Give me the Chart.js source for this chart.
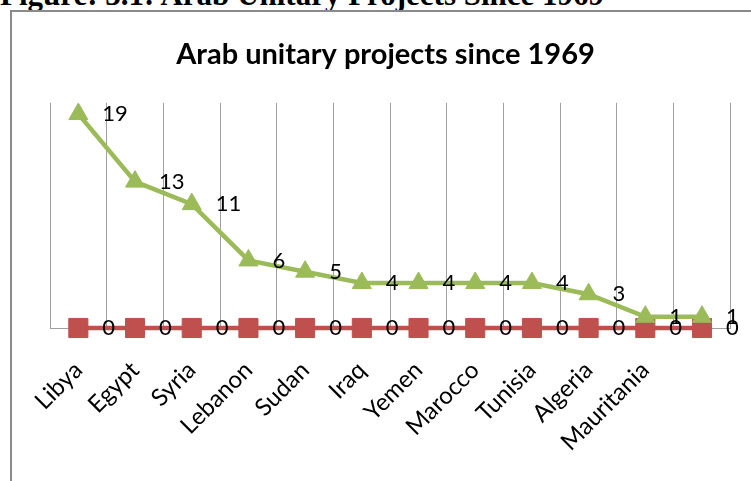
<!DOCTYPE html>
<html>
<head>
<meta charset="utf-8">
<script src="https://cdn.jsdelivr.net/npm/chart.js@4.4.1/dist/chart.umd.min.js"></script>
<style>
  body { margin: 0; background: #fff; }
  #wrap { position: relative; width: 751px; height: 481px; overflow: hidden; }
  #caption {
    position: absolute; left: 0; top: -23px; line-height: 31px; white-space: nowrap;
    font: bold 31px "Liberation Serif", "Times New Roman", serif; color: #000;
  }
  #frame { position: absolute; left: 10px; top: 10px; width: 900px; height: 700px; border: 2px solid #8a8a8a; }
  canvas { position: absolute; left: 0; top: 0; }
</style>
</head>
<body>
<div id="wrap">
  <div id="caption">Figure: 3.1: Arab Unitary Projects Since 1969</div>
  <div id="frame"></div>
  <canvas id="chart" width="751" height="481"></canvas>
</div>
<script>
// data
const countries = ['Libya', 'Egypt', 'Syria', 'Lebanon', 'Sudan', 'Iraq', 'Yemen', 'Marocco', 'Tunisia', 'Algeria', 'Mauritania', ''];
const projects = [19, 13, 11, 6, 5, 4, 4, 4, 4, 3, 1, 1];
const zeros = [0, 0, 0, 0, 0, 0, 0, 0, 0, 0, 0, 0];

const GREEN = '#9bbb59';
const RED = '#c0504d';

// value labels to the right of every point
const pointLabels = {
  id: 'pointLabels',
  afterDatasetsDraw(chart) {
    const ctx = chart.ctx;
    ctx.save();
    ctx.font = '22px Lato';
    ctx.fillStyle = '#000';
    ctx.textAlign = 'left';
    ctx.textBaseline = 'middle';
    chart.data.datasets.forEach((ds, i) => {
      const meta = chart.getDatasetMeta(i);
      meta.data.forEach((pt, j) => {
        ctx.fillText(String(ds.data[j]), pt.x + 24, pt.y);
      });
    });
    ctx.restore();
  }
};

new Chart(document.getElementById('chart'), {
  type: 'line',
  data: {
    labels: countries,
    datasets: [
      {
        label: 'Projects',
        data: projects,
        borderColor: GREEN,
        backgroundColor: GREEN,
        borderWidth: 4.5,
        pointStyle: 'triangle',
        pointRadius: 11,
        pointBorderWidth: 1,
        tension: 0,
        fill: false,
        clip: false,
      },
      {
        label: 'Zero',
        data: zeros,
        borderColor: RED,
        backgroundColor: RED,
        borderWidth: 4.5,
        pointStyle: 'rect',
        pointRadius: 13.5,
        pointBorderWidth: 1,
        tension: 0,
        fill: false,
        clip: false,
      },
    ],
  },
  options: {
    responsive: false,
    animation: false,
    layout: { padding: { left: 35, right: 15, top: 0, bottom: 0 } },
    plugins: {
      legend: { display: false },
      tooltip: { enabled: false },
      title: {
        display: true,
        text: 'Arab unitary projects since 1969',
        color: '#000',
        font: { family: 'Lato', size: 29, weight: 'bold', lineHeight: 1.2 },
        padding: { top: 37, bottom: 31 },
      },
    },
    scales: {
      x: {
        offset: true,
        grid: { display: true, offset: true, color: '#a0a0a0', drawTicks: false },
        border: { display: true, color: '#a0a0a0' },
        ticks: {
          autoSkip: false,
          minRotation: 45,
          maxRotation: 45,
          padding: 28,
          color: '#000',
          font: { family: 'Lato', size: 24 },
        },
        afterFit(scale) { scale.height = 153; },
      },
      y: {
        min: 0,
        max: 20,
        grid: { display: false },
        border: { display: false },
        ticks: { display: false },
        afterFit(scale) { scale.width = 15; },
      },
    },
  },
  plugins: [pointLabels],
});
</script>
</body>
</html>
